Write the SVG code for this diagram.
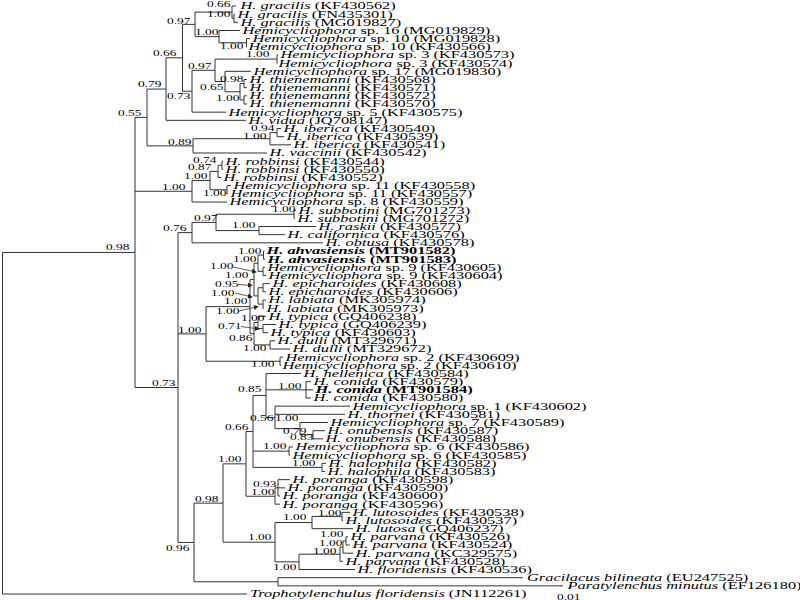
<svg xmlns="http://www.w3.org/2000/svg" width="800" height="600" viewBox="0 0 800 600">
<style>
text { font-family: "Liberation Serif", "Times New Roman", serif; font-size: 10px; fill: #000; transform-box: fill-box; transform-origin: 0 50%; transform: scaleX(1.64); }
.i { font-style: italic; }
.b { font-weight: bold; }
.s { font-size: 8.2px; }
.br { fill: none; stroke: #333; stroke-width: 1; }
.ld { fill: none; stroke: #333; stroke-width: 0.8; marker-end: url(#ah); }
</style>
<defs>
<marker id="ah" viewBox="0 0 6 6" refX="5" refY="3" markerWidth="5" markerHeight="5" markerUnits="userSpaceOnUse" orient="auto"><path d="M0 0L6 3L0 6Z" fill="#222"/></marker>
</defs>
<rect width="800" height="600" fill="#fff"/>
<g id="connectors">
<path class="br" d="M2.5 252.45V594 M2.5 252.45H135 M2.5 594H247
M135 117.46V387.5 M135 117.46H147 M135 191.28H192 M135 387.5H178
M147 89.07V145.85 M147 89.07H166 M147 145.85H193
M166 57.81V120.33 M166 57.81H182.5 M166 120.33H246
M182.5 24.38V91.24 M182.5 24.38H195 M182.5 91.24H192
M195 12.13V36.63 M195 12.13H232 M195 36.63H219
M232 6V18.25 M232 6H236 M232 18.25H234
M234 14.17V22.33 M234 14.17H235 M234 22.33H238
M219 30.5V42.75 M219 30.5H240 M219 42.75H246.5
M246.5 38.67V46.83 M246.5 38.67H250 M246.5 46.83H247
M192 70.31V112.17 M192 70.31H215 M192 112.17H226
M215 59.08V81.54 M215 59.08H277 M215 81.54H225
M277 55V63.17 M277 55H278 M277 63.17H277.5
M225 71.33V91.75 M225 71.33H251 M225 91.75H240
M240 83.58V99.92 M240 83.58H244 M240 99.92H244
M244 79.5V87.67 M244 79.5H247 M244 87.67H247
M244 95.83V104 M244 95.83H247 M244 104H247
M193 138.71V153 M193 138.71H270 M193 153H267
M270 132.58V144.83 M270 132.58H277 M270 144.83H291
M277 128.5V136.67 M277 128.5H281 M277 136.67H284
M192 180.56V202 M192 180.56H210 M192 202H227
M210 171.38V189.75 M210 171.38H218 M210 189.75H227
M218 165.25V177.5 M218 165.25H222 M218 177.5H221
M222 161.17V169.33 M222 161.17H223 M222 169.33H223
M227 185.67V193.83 M227 185.67H231 M227 193.83H228
M178 232.6V542.45 M178 232.6H192 M178 333.9H206 M178 542.45H194
M192 222.42V242.83 M192 222.42H216 M192 242.83H323
M216 214.25V230.58 M216 214.25H294 M216 230.58H259
M294 210.17V218.33 M294 210.17H296 M294 218.33H295
M259 226.5V234.67 M259 226.5H316 M259 234.67H285
M206 306.6V361.25 M206 306.6H250 M206 361.25H280
M280 357.17V365.33 M280 357.17H283 M280 365.33H281
M250 279.6V333.7 M250 279.6H254 M250 333.7H254
M254 263.25V295.9 M254 263.25H258 M254 295.9H258
M258 255.08V271.42 M258 255.08H263.5 M258 271.42H263
M263.5 251V259.17 M263.5 251H264.5 M263.5 259.17H265
M263 267.33V275.5 M263 267.33H265 M263 275.5H266
M258 287.75V304.08 M258 287.75H263 M258 304.08H263
M263 283.67V291.83 M263 283.67H270 M263 291.83H266
M263 300V308.17 M263 300H266 M263 308.17H264
M254 322.46V344.92 M254 322.46H258 M254 344.92H270
M258 316.33V328.58 M258 316.33H266 M258 328.58H263
M263 324.5V332.67 M263 324.5H276 M263 332.67H268
M270 340.83V349 M270 340.83H275 M270 349H290
M194 503.15V581.75 M194 503.15H223 M194 581.75H278
M278 577.67V585.83 M278 577.67H523 M278 585.83H563
M223 463.85V542.2 M223 463.85H246 M223 542.2H275
M246 431.46V496.25 M246 431.46H253 M246 496.25H275
M253 395.45V467.42 M253 395.45H266 M253 451.08H289 M253 467.42H322
M266 373.5V417.42 M266 373.5H301 M266 389.83H306 M266 417.42H275
M306 381.67V398 M306 381.67H311 M306 389.83H313 M306 398H311
M275 406.17V428.67 M275 406.17H350 M275 414.33H345 M275 428.67H300
M300 422.5V434.75 M300 422.5H328 M300 434.75H313
M313 430.67V438.83 M313 430.67H325 M313 438.83H323
M289 447V455.17 M289 447H293 M289 455.17H290
M322 463.33V471.5 M322 463.33H326 M322 471.5H325
M275 487.83V504.17 M275 487.83H278 M275 504.17H280
M278 479.67V496 M278 479.67H290 M278 487.83H285 M278 496H280
M275 522.54V561.85 M275 522.54H312 M275 561.85H299
M312 516.42V528.67 M312 516.42H342 M312 528.67H353
M342 512.33V520.5 M342 512.33H350 M342 520.5H343
M299 554.19V569.5 M299 554.19H340 M299 569.5H355
M340 547.04V561.33 M340 547.04H343 M340 561.33H343
M343 540.92V553.17 M343 540.92H346 M343 553.17H353
M346 536.83V545 M346 536.83H348 M346 545H350"/>
<path class="ld" d="M233 267L256 272"/>
<path class="ld" d="M238 284.5L252 285.5"/>
<path class="ld" d="M235 293L252 297"/>
<path class="ld" d="M239 311L258 306.5"/>
<path class="ld" d="M241 326.5L259 329"/>
</g>
<g id="leaf1"><text x="240" y="9.4"><tspan class="i">H. gracilis</tspan> (KF430562)</text></g>
<g id="leaf2"><text x="237" y="17.57"><tspan class="i">H. gracilis</tspan> (FN435301)</text></g>
<g id="leaf3"><text x="240" y="25.73"><tspan class="i">H. gracilis</tspan> (MG019827)</text></g>
<g id="leaf4"><text x="242" y="33.9"><tspan class="i">Hemicycliophora</tspan> sp. 16 (MG019829)</text></g>
<g id="leaf5"><text x="252" y="42.07"><tspan class="i">Hemicycliophora</tspan> sp. 10 (MG019828)</text></g>
<g id="leaf6"><text x="248" y="50.23"><tspan class="i">Hemicycliophora</tspan> sp. 10 (KF430566)</text></g>
<g id="leaf7"><text x="280" y="58.4"><tspan class="i">Hemicycliophora</tspan> sp. 3 (KF430573)</text></g>
<g id="leaf8"><text x="278" y="66.57"><tspan class="i">Hemicycliophora</tspan> sp. 3 (KF430574)</text></g>
<g id="leaf9"><text x="253" y="74.73"><tspan class="i">Hemicycliophora</tspan> sp. 17 (MG019830)</text></g>
<g id="leaf10"><text x="249" y="82.9"><tspan class="i">H. thienemanni</tspan> (KF430568)</text></g>
<g id="leaf11"><text x="249" y="91.07"><tspan class="i">H. thienemanni</tspan> (KF430571)</text></g>
<g id="leaf12"><text x="249" y="99.23"><tspan class="i">H. thienemanni</tspan> (KF430572)</text></g>
<g id="leaf13"><text x="249" y="107.4"><tspan class="i">H. thienemanni</tspan> (KF430570)</text></g>
<g id="leaf14"><text x="228" y="115.57"><tspan class="i">Hemicycliophora</tspan> sp. 5 (KF430575)</text></g>
<g id="leaf15"><text x="248" y="123.73"><tspan class="i">H. vidua</tspan> (JQ708147)</text></g>
<g id="leaf16"><text x="283" y="131.9"><tspan class="i">H. iberica</tspan> (KF430540)</text></g>
<g id="leaf17"><text x="286" y="140.07"><tspan class="i">H. iberica</tspan> (KF430539)</text></g>
<g id="leaf18"><text x="293" y="148.23"><tspan class="i">H. iberica</tspan> (KF430541)</text></g>
<g id="leaf19"><text x="269" y="156.4"><tspan class="i">H. vaccinii</tspan> (KF430542)</text></g>
<g id="leaf20"><text x="225" y="164.57"><tspan class="i">H. robbinsi</tspan> (KF430544)</text></g>
<g id="leaf21"><text x="225" y="172.73"><tspan class="i">H. robbinsi</tspan> (KF430550)</text></g>
<g id="leaf22"><text x="223" y="180.9"><tspan class="i">H. robbinsi</tspan> (KF430552)</text></g>
<g id="leaf23"><text x="233" y="189.07"><tspan class="i">Hemicycliophora</tspan> sp. 11 (KF430558)</text></g>
<g id="leaf24"><text x="230" y="197.23"><tspan class="i">Hemicycliophora</tspan> sp. 11 (KF430557)</text></g>
<g id="leaf25"><text x="229" y="205.4"><tspan class="i">Hemicycliophora</tspan> sp. 8 (KF430559)</text></g>
<g id="leaf26"><text x="298" y="213.57"><tspan class="i">H. subbotini</tspan> (MG701273)</text></g>
<g id="leaf27"><text x="297" y="221.73"><tspan class="i">H. subbotini</tspan> (MG701272)</text></g>
<g id="leaf28"><text x="318" y="229.9"><tspan class="i">H. raskii</tspan> (KF430577)</text></g>
<g id="leaf29"><text x="287" y="238.07"><tspan class="i">H. californica</tspan> (KF430576)</text></g>
<g id="leaf30"><text x="325" y="246.23"><tspan class="i">H. obtusa</tspan> (KF430578)</text></g>
<g id="leaf31"><text class="b" x="266" y="254.4"><tspan class="i">H. ahvasiensis</tspan> (MT901582)</text></g>
<g id="leaf32"><text class="b" x="267" y="262.57"><tspan class="i">H. ahvasiensis</tspan> (MT901583)</text></g>
<g id="leaf33"><text x="267" y="270.73"><tspan class="i">Hemicycliophora</tspan> sp. 9 (KF430605)</text></g>
<g id="leaf34"><text x="268" y="278.9"><tspan class="i">Hemicycliophora</tspan> sp. 9 (KF430604)</text></g>
<g id="leaf35"><text x="272" y="287.07"><tspan class="i">H. epicharoides</tspan> (KF430608)</text></g>
<g id="leaf36"><text x="268" y="295.23"><tspan class="i">H. epicharoides</tspan> (KF430606)</text></g>
<g id="leaf37"><text x="268" y="303.4"><tspan class="i">H. labiata</tspan> (MK305974)</text></g>
<g id="leaf38"><text x="266" y="311.57"><tspan class="i">H. labiata</tspan> (MK305973)</text></g>
<g id="leaf39"><text x="268" y="319.73"><tspan class="i">H. typica</tspan> (GQ406238)</text></g>
<g id="leaf40"><text x="278" y="327.9"><tspan class="i">H. typica</tspan> (GQ406239)</text></g>
<g id="leaf41"><text x="270" y="336.07"><tspan class="i">H. typica</tspan>  (KF430603)</text></g>
<g id="leaf42"><text x="277" y="344.23"><tspan class="i">H. dulli</tspan> (MT329671)</text></g>
<g id="leaf43"><text x="292" y="352.4"><tspan class="i">H. dulli</tspan> (MT329672)</text></g>
<g id="leaf44"><text x="285" y="360.57"><tspan class="i">Hemicycliophora</tspan> sp. 2 (KF430609)</text></g>
<g id="leaf45"><text x="282" y="368.73"><tspan class="i">Hemicycliophora</tspan> sp. 2 (KF430610)</text></g>
<g id="leaf46"><text x="303" y="376.9"><tspan class="i">H. hellenica</tspan> (KF430584)</text></g>
<g id="leaf47"><text x="313" y="385.07"><tspan class="i">H. conida</tspan> (KF430579)</text></g>
<g id="leaf48"><text class="b" x="315" y="393.23"><tspan class="i">H. conida</tspan> (MT901584)</text></g>
<g id="leaf49"><text x="313" y="401.4"><tspan class="i">H. conida</tspan> (KF430580)</text></g>
<g id="leaf50"><text x="352" y="409.57"><tspan class="i">Hemicycliophora</tspan> sp. 1 (KF430602)</text></g>
<g id="leaf51"><text x="347" y="417.73"><tspan class="i">H. thornei</tspan> (KF430581)</text></g>
<g id="leaf52"><text x="330" y="425.9"><tspan class="i">Hemicycliophora</tspan> sp. 7 (KF430589)</text></g>
<g id="leaf53"><text x="327" y="434.07"><tspan class="i">H. onubensis</tspan> (KF430587)</text></g>
<g id="leaf54"><text x="325" y="442.23"><tspan class="i">H. onubensis</tspan> (KF430588)</text></g>
<g id="leaf55"><text x="295" y="450.4"><tspan class="i">Hemicycliophora</tspan> sp. 6 (KF430586)</text></g>
<g id="leaf56"><text x="292" y="458.57"><tspan class="i">Hemicycliophora</tspan> sp. 6 (KF430585)</text></g>
<g id="leaf57"><text x="328" y="466.73"><tspan class="i">H. halophila</tspan> (KF430582)</text></g>
<g id="leaf58"><text x="327" y="474.9"><tspan class="i">H. halophila</tspan> (KF430583)</text></g>
<g id="leaf59"><text x="292" y="483.07"><tspan class="i">H. poranga</tspan> (KF430598)</text></g>
<g id="leaf60"><text x="287" y="491.23"><tspan class="i">H. poranga</tspan> (KF430590)</text></g>
<g id="leaf61"><text x="282" y="499.4"><tspan class="i">H. poranga</tspan> (KF430600)</text></g>
<g id="leaf62"><text x="282" y="507.57"><tspan class="i">H. poranga</tspan> (KF430596)</text></g>
<g id="leaf63"><text x="352" y="515.73"><tspan class="i">H. lutosoides</tspan> (KF430538)</text></g>
<g id="leaf64"><text x="345" y="523.9"><tspan class="i">H. lutosoides</tspan> (KF430537)</text></g>
<g id="leaf65"><text x="355" y="532.07"><tspan class="i">H. lutosa</tspan> (GQ406237)</text></g>
<g id="leaf66"><text x="350" y="540.23"><tspan class="i">H. parvana</tspan> (KF430526)</text></g>
<g id="leaf67"><text x="352" y="548.4"><tspan class="i">H. parvana</tspan> (KF430524)</text></g>
<g id="leaf68"><text x="355" y="556.57"><tspan class="i">H. parvana</tspan> (KC329575)</text></g>
<g id="leaf69"><text x="345" y="564.73"><tspan class="i">H. parvana</tspan> (KF430528)</text></g>
<g id="leaf70"><text x="357" y="572.9"><tspan class="i">H. floridensis</tspan> (KF430536)</text></g>
<g id="leaf71"><text x="527" y="581.07"><tspan class="i">Gracilacus bilineata</tspan> (EU247525)</text></g>
<g id="leaf72"><text x="567" y="589.23"><tspan class="i">Paratylenchus minutus</tspan> (EF126180)</text></g>
<g id="leaf73"><text x="250" y="597.4"><tspan class="i">Trophotylenchulus floridensis</tspan> (JN112261)</text></g>
<g id="support">
<text class="s" x="207" y="7.3">0.66</text>
<text class="s" x="207" y="16.8">1.00</text>
<text class="s" x="167" y="24.5">0.97</text>
<text class="s" x="195" y="34.8">1.00</text>
<text class="s" x="220" y="48.8">1.00</text>
<text class="s" x="153" y="56.3">0.66</text>
<text class="s" x="246" y="56.8">1.00</text>
<text class="s" x="188" y="69.1">0.97</text>
<text class="s" x="220" y="81.8">0.98</text>
<text class="s" x="200" y="89.8">0.65</text>
<text class="s" x="216" y="101.3">1.00</text>
<text class="s" x="167" y="98.8">0.73</text>
<text class="s" x="138" y="87.3">0.79</text>
<text class="s" x="118" y="116.3">0.55</text>
<text class="s" x="251" y="130.8">0.94</text>
<text class="s" x="243" y="138.8">1.00</text>
<text class="s" x="168" y="144.8">0.89</text>
<text class="s" x="193" y="163.3">0.74</text>
<text class="s" x="188" y="169.8">0.87</text>
<text class="s" x="184" y="178.8">1.00</text>
<text class="s" x="162" y="190.3">1.00</text>
<text class="s" x="203" y="195.8">1.00</text>
<text class="s" x="272" y="211.8">1.00</text>
<text class="s" x="194" y="221.3">0.97</text>
<text class="s" x="232" y="228.3">1.00</text>
<text class="s" x="163" y="231.3">0.76</text>
<text class="s" x="106" y="249.8">0.98</text>
<text class="s" x="238" y="254.3">1.00</text>
<text class="s" x="233" y="262.3">1.00</text>
<text class="s" x="210" y="269.5">1.00</text>
<text class="s" x="225" y="278.5">1.00</text>
<text class="s" x="215" y="286.8">0.95</text>
<text class="s" x="211" y="295.6">1.00</text>
<text class="s" x="224" y="303.8">1.00</text>
<text class="s" x="216" y="313.8">1.00</text>
<text class="s" x="241" y="321.3">1.00</text>
<text class="s" x="218" y="328.8">0.71</text>
<text class="s" x="229" y="340.8">0.86</text>
<text class="s" x="243" y="350.8">1.00</text>
<text class="s" x="251" y="366.8">1.00</text>
<text class="s" x="178" y="332.8">1.00</text>
<text class="s" x="152" y="385.8">0.73</text>
<text class="s" x="238" y="392.3">0.85</text>
<text class="s" x="278" y="388.8">1.00</text>
<text class="s" x="250" y="420.8">0.56</text>
<text class="s" x="275" y="420.8">1.00</text>
<text class="s" x="283" y="433.8">0.79</text>
<text class="s" x="290" y="439.8">0.83</text>
<text class="s" x="225" y="430.3">0.66</text>
<text class="s" x="263" y="449.3">1.00</text>
<text class="s" x="292" y="466.3">1.00</text>
<text class="s" x="218" y="462.3">1.00</text>
<text class="s" x="253" y="486.8">0.93</text>
<text class="s" x="251" y="495.3">1.00</text>
<text class="s" x="195" y="501.8">0.98</text>
<text class="s" x="166" y="550.8">0.96</text>
<text class="s" x="248" y="540.3">1.00</text>
<text class="s" x="283" y="520.3">1.00</text>
<text class="s" x="318" y="515.8">1.00</text>
<text class="s" x="273" y="570.3">1.00</text>
<text class="s" x="320" y="537.3">1.00</text>
<text class="s" x="319" y="545.8">1.00</text>
<text class="s" x="313" y="553.8">1.00</text>
</g>
<g id="scale"><text class="s" x="557" y="600">0.01</text></g>
</svg>
